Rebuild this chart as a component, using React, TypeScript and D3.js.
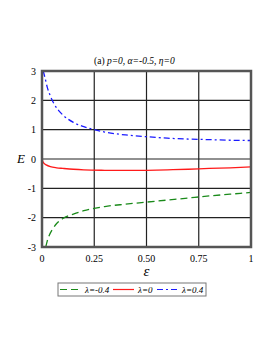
import * as d3 from "d3";

// curve data: [epsilon, E]
const epsGreen = [0.018, 0.025, 0.035, 0.05, 0.07, 0.1, 0.15, 0.2, 0.25, 0.3, 0.4, 0.5, 0.6, 0.7, 0.8, 0.9, 1.0];
const eGreen = [-3, -2.8, -2.6, -2.4, -2.2, -2.03, -1.88, -1.76, -1.68, -1.62, -1.54, -1.47, -1.4, -1.33, -1.26, -1.2, -1.14];

const epsRed = [0, 0.005, 0.01, 0.02, 0.04, 0.07, 0.1, 0.15, 0.2, 0.3, 0.4, 0.5, 0.6, 0.7, 0.8, 0.9, 1.0];
const eRed = [0, -0.1, -0.15, -0.2, -0.26, -0.3, -0.32, -0.35, -0.37, -0.385, -0.39, -0.385, -0.37, -0.35, -0.32, -0.3, -0.27];

const epsBlue = [0.006, 0.015, 0.025, 0.04, 0.06, 0.08, 0.1, 0.15, 0.2, 0.25, 0.3, 0.4, 0.5, 0.6, 0.7, 0.8, 0.9, 1.0];
const eBlue = [3.0, 2.75, 2.45, 2.15, 1.85, 1.65, 1.5, 1.25, 1.1, 1.0, 0.92, 0.82, 0.76, 0.71, 0.68, 0.66, 0.64, 0.63];

const xTicks = [0, 0.25, 0.5, 0.75, 1];
const xTickLabels = ["0", "0.25", "0.50", "0.75", "1"];
const yTicks = [-3, -2, -1, 0, 1, 2, 3];

const series = [
  { label: "λ=-0.4", eps: epsGreen, e: eGreen, color: "#1a8a1a", dash: "7,4" },
  { label: "λ=0", eps: epsRed, e: eRed, color: "#ff1a1a", dash: "" },
  { label: "λ=0.4", eps: epsBlue, e: eBlue, color: "#1a1aff", dash: "6,3,2,3" },
];

export default function App() {
  const W = 273;
  const H = 353;
  const left = 42, right = 251, top = 71, bottom = 247;

  const x = d3.scaleLinear().domain([0, 1]).range([left, right]);
  const y = d3.scaleLinear().domain([-3, 3]).range([bottom, top]);

  const line = d3
    .line<[number, number]>()
    .x(d => x(d[0]))
    .y(d => y(d[1]))
    .curve(d3.curveMonotoneX);

  const font = "'Liberation Serif', 'DejaVu Serif', serif";

  // legend layout
  const legX = 58, legY = 283, legW = 148, legH = 13;
  const legItems = [
    { lx0: 60, lx1: 81, tx: 85 },
    { lx0: 113, lx1: 134, tx: 138 },
    { lx0: 157, lx1: 178, tx: 182 },
  ];

  return (
    <svg width={W} height={H} style={{ position: "absolute", left: 0, top: 0, background: "#fff" }}>
      <text x={94} y={64} fontFamily={font} fontSize={9.5}>
        (a) <tspan fontStyle="italic">p=0, α=-0.5, η=0</tspan>
      </text>

      {/* grid */}
      {xTicks.slice(1, -1).map(t => (
        <line key={"gx" + t} x1={x(t)} x2={x(t)} y1={top} y2={bottom} stroke="#222" strokeWidth={1.2} />
      ))}
      {yTicks.slice(1, -1).map(t => (
        <line key={"gy" + t} x1={left} x2={right} y1={y(t)} y2={y(t)} stroke="#222" strokeWidth={1.2} />
      ))}

      {/* curves */}
      <defs>
        <clipPath id="plot">
          <rect x={left} y={top} width={right - left} height={bottom - top} />
        </clipPath>
      </defs>
      <g clipPath="url(#plot)">
        {series.map(s => (
          <path
            key={s.label}
            d={line(s.eps.map((v, i) => [v, s.e[i]] as [number, number])) || ""}
            fill="none"
            stroke={s.color}
            strokeWidth={1.3}
            strokeDasharray={s.dash}
          />
        ))}
      </g>

      {/* frame */}
      <rect x={left} y={top} width={right - left} height={bottom - top} fill="none" stroke="#555" strokeWidth={2.5} />

      {/* ticks */}
      {yTicks.map(t => (
        <text key={"ty" + t} x={36} y={y(t) + 3.5} textAnchor="end" fontFamily={font} fontSize={10}>
          {t}
        </text>
      ))}
      {xTicks.map((t, i) => (
        <text key={"tx" + t} x={x(t)} y={262} textAnchor="middle" fontFamily={font} fontSize={10}>
          {xTickLabels[i]}
        </text>
      ))}

      <text x={21} y={y(0) + 4} textAnchor="middle" fontFamily={font} fontSize={13} fontStyle="italic">
        E
      </text>
      <text x={x(0.5)} y={276} textAnchor="middle" fontFamily={font} fontSize={15} fontStyle="italic">
        ε
      </text>

      {/* legend */}
      <rect x={legX} y={legY} width={legW} height={legH} fill="#fff" stroke="#777" strokeWidth={1} />
      {series.map((s, i) => (
        <g key={"leg" + s.label}>
          <line
            x1={legItems[i].lx0}
            x2={legItems[i].lx1}
            y1={legY + legH / 2}
            y2={legY + legH / 2}
            stroke={s.color}
            strokeWidth={1.2}
            strokeDasharray={s.dash}
          />
          <text x={legItems[i].tx} y={legY + legH / 2 + 3} fontFamily={font} fontSize={9} fontStyle="italic">
            {s.label}
          </text>
        </g>
      ))}
    </svg>
  );
}
